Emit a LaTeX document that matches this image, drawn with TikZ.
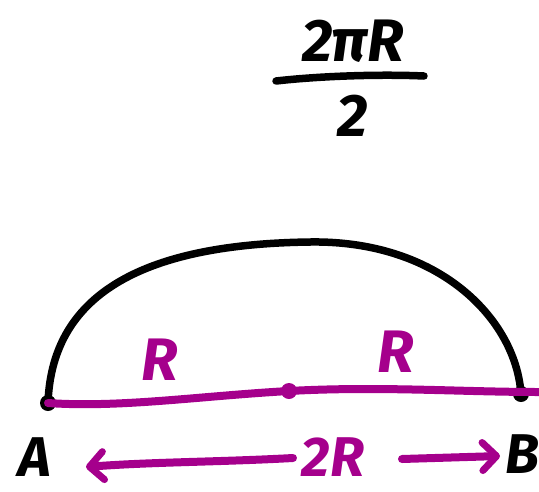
\documentclass[tikz,border=0pt]{standalone}
\usepackage{fontspec}
\setmainfont{Fira Sans}
\usetikzlibrary{arrows.meta}
\definecolor{pen}{RGB}{165,0,140}
\tikzset{
  hand/.style={font=\bfseries\itshape\fontsize{56}{56}\selectfont, inner sep=0pt},
  blackpen/.style={line width=7.5pt, line cap=round, line join=round, black},
  purplepen/.style={line width=8pt, line cap=round, line join=round, pen},
  dotnode/.style={circle, fill, inner sep=0pt, minimum size=16pt},
  arrowtip/.style={-{Straight Barb[length=14pt,width=28pt,line width=7pt,round]}}
}
\begin{document}
\begin{tikzpicture}[x=1pt,y=-1pt]
\useasboundingbox (0,0) rectangle (539,491);
% fraction
\node[hand, font=\bfseries\itshape\fontsize{60}{60}\selectfont] (num) at (353,41) {2πR};
\node[hand, font=\bfseries\itshape\fontsize{60}{60}\selectfont] (den) at (353,116) {2};
\coordinate (barL) at (276,81);
\coordinate (barR) at (424,76);
\draw[blackpen] (barL) .. controls (320,76) and (380,74) .. (barR);
% points
\node[dotnode, black] (A) at (48,403) {};
\node[dotnode, black] (B) at (521,394) {};
\node[dotnode, pen] (M) at (289,391) {};
\coordinate (top) at (310,242);
\coordinate (E) at (539,392);
% arc
\draw[blackpen] (A.center) .. controls (52,290) and (150,244) .. (top)
  .. controls (440,240) and (516,320) .. (B.center);
% diameter
\draw[purplepen] (A.center) .. controls (120,408) and (200,396) .. (M.center)
  .. controls (380,386) and (460,392) .. (E);
% labels
\node[hand, pen, font=\bfseries\itshape\fontsize{60}{60}\selectfont] (R1) at (160,360) {R};
\node[hand, pen, font=\bfseries\itshape\fontsize{60}{60}\selectfont] (R2) at (396,352) {R};
\node[hand] (Alab) at (35,457) {A};
\node[hand] (Blab) at (522,454) {B};
\node[hand, pen] (twoR) at (333,457) {2R};
% arrows
\coordinate (LarrS) at (293,458);
\coordinate (LarrE) at (86,467);
\coordinate (RarrS) at (402,459);
\coordinate (RarrE) at (500,456);
\draw[purplepen, arrowtip] (LarrS) .. controls (220,462) and (150,462) .. (LarrE);
\draw[purplepen, arrowtip] (RarrS) -- (RarrE);
\end{tikzpicture}
\end{document}
